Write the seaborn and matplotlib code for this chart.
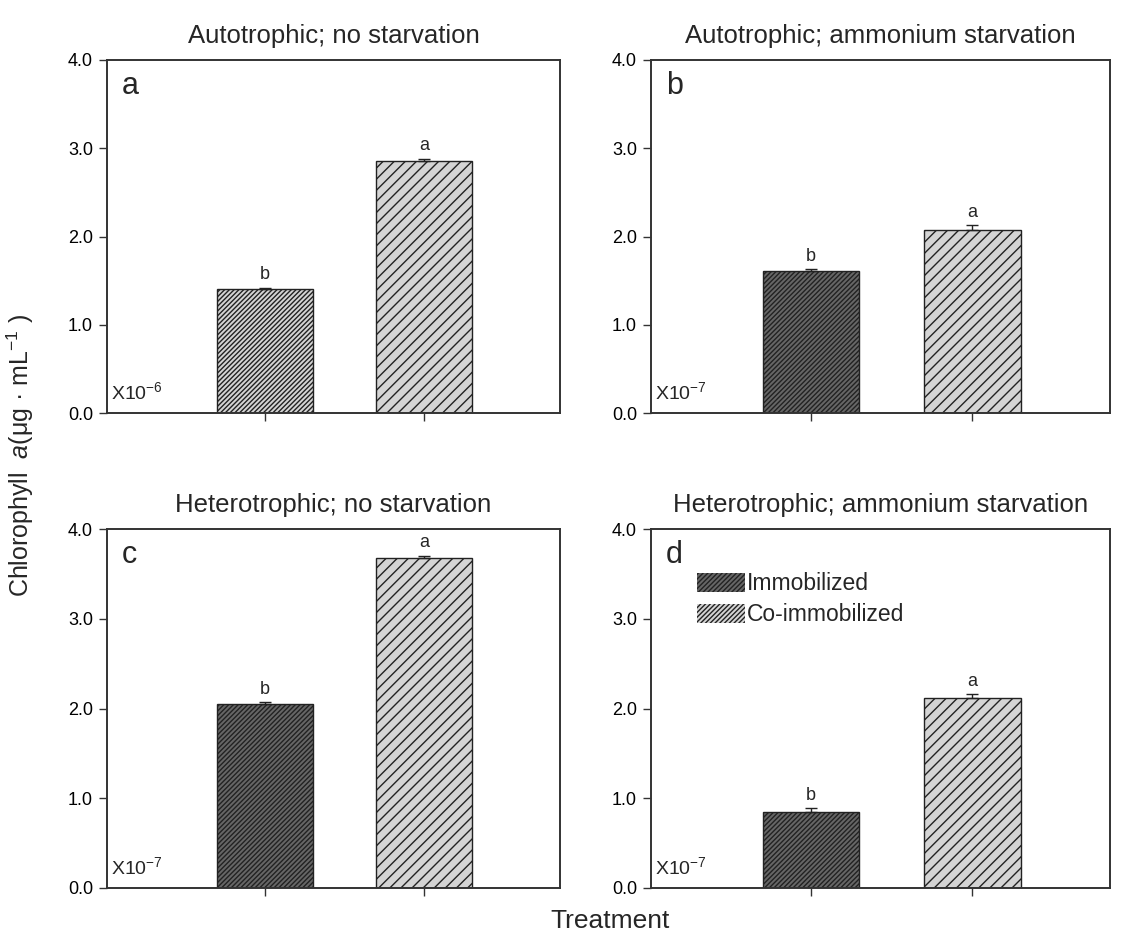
import numpy as np
import pandas as pd
import matplotlib
matplotlib.use("Agg")
import matplotlib.pyplot as plt
import seaborn as sns
from matplotlib.patches import Patch

# data
treatments = ["Immobilized", "Co-immobilized"]
titles = ["Autotrophic; no starvation", "Autotrophic; ammonium starvation",
          "Heterotrophic; no starvation", "Heterotrophic; ammonium starvation"]
panel_letters = ["a", "b", "c", "d"]
exponents = ["-6", "-7", "-7", "-7"]
means_a = [1.41, 2.86]
means_b = [1.61, 2.07]
means_c = [2.05, 3.68]
means_d = [0.85, 2.12]
errs_a = [0.01, 0.02]
errs_b = [0.02, 0.06]
errs_c = [0.02, 0.02]
errs_d = [0.04, 0.04]
sig_a = ["b", "a"]
sig_b = ["b", "a"]
sig_c = ["b", "a"]
sig_d = ["b", "a"]

sns.set_style("ticks")
plt.rcParams['font.family'] = ['Liberation Sans', 'DejaVu Sans']
plt.rcParams['hatch.linewidth'] = 1.0
plt.rcParams['mathtext.fontset'] = 'custom'
plt.rcParams['mathtext.rm'] = 'Liberation Sans'
plt.rcParams['mathtext.it'] = 'Liberation Sans:italic'

DARK = "#666666"
LIGHT = "#d4d4d4"
EDGE = "#222222"

fig = plt.figure(figsize=(11.32, 9.33), dpi=100)
W, H = 1132, 933
# axes boxes in pixels: left, top, right, bottom
boxes = [(107, 60, 560, 413), (651, 60, 1110, 413),
         (107, 529, 560, 888), (651, 529, 1110, 888)]

all_means = [means_a, means_b, means_c, means_d]
all_errs = [errs_a, errs_b, errs_c, errs_d]
all_sig = [sig_a, sig_b, sig_c, sig_d]

for i, (l, t, r, b) in enumerate(boxes):
    ax = fig.add_axes([l / W, 1 - b / H, (r - l) / W, (b - t) / H])
    df = pd.DataFrame({"treatment": treatments, "value": all_means[i]})
    # panel a has a light first bar
    first_col = LIGHT if i == 0 else DARK
    sns.barplot(data=df, x="treatment", y="value", hue="treatment",
                palette=[first_col, LIGHT], width=0.6, errorbar=None,
                legend=False, ax=ax, edgecolor=EDGE, linewidth=1.0)
    hatches = ["///////", "///"]
    for p, h in zip(ax.patches, hatches):
        p.set_hatch(h)
        p.set_edgecolor(EDGE)
    ax.errorbar([0, 1], all_means[i], yerr=[[0, 0], all_errs[i]], fmt="none",
                ecolor=EDGE, elinewidth=1, capsize=4, capthick=1)
    for x, (m, e, s) in enumerate(zip(all_means[i], all_errs[i], all_sig[i])):
        ax.text(x, m + e + 0.05, s, ha="center", va="bottom", fontsize=13)

    ax.set_xlim(-0.994, 1.855)
    ax.set_ylim(0, 4)
    ax.set_yticks([0, 1, 2, 3, 4])
    ax.set_yticklabels(["0.0", "1.0", "2.0", "3.0", "4.0"], fontsize=13)
    ax.set_xticks([0, 1])
    ax.set_xticklabels(["", ""])
    ax.set_xlabel("")
    ax.set_ylabel("")
    for sp in ax.spines.values():
        sp.set_visible(True)
        sp.set_linewidth(1.4)
        sp.set_color("#333333")
    ax.tick_params(direction="out", length=6, width=1, colors="#333333",
                   labelcolor="black", pad=4)
    ax.set_title(titles[i], fontsize=18.5, pad=12)
    ax.text(0.033, 0.905, panel_letters[i], transform=ax.transAxes,
            ha="left", va="baseline", fontsize=22)
    ax.text(0.008, 0.04, "X10$^{" + exponents[i] + "}$", transform=ax.transAxes,
            ha="left", va="baseline", fontsize=14)

    if i == 3:
        handles = [Patch(facecolor=DARK, edgecolor=EDGE, hatch="///////", linewidth=0),
                   Patch(facecolor=LIGHT, edgecolor=EDGE, hatch="///////", linewidth=0)]
        ax.legend(handles, treatments, loc="upper left", bbox_to_anchor=(0.1, 0.88),
                  frameon=False, fontsize=16.5, handlelength=2.1, handleheight=0.9,
                  handletextpad=0.1, labelspacing=0.35, borderaxespad=0, borderpad=0)

fig.text(20 / W, 1 - 455 / H, "Chlorophyll  $\\mathit{a}$(\u03bcg \u00b7 mL$^{-1}$ )",
         rotation=90, ha="center", va="center", fontsize=18)
fig.text(610 / W, 1 - 921 / H, "Treatment", ha="center", va="center", fontsize=19)

fig.savefig("out.png", dpi=100)
